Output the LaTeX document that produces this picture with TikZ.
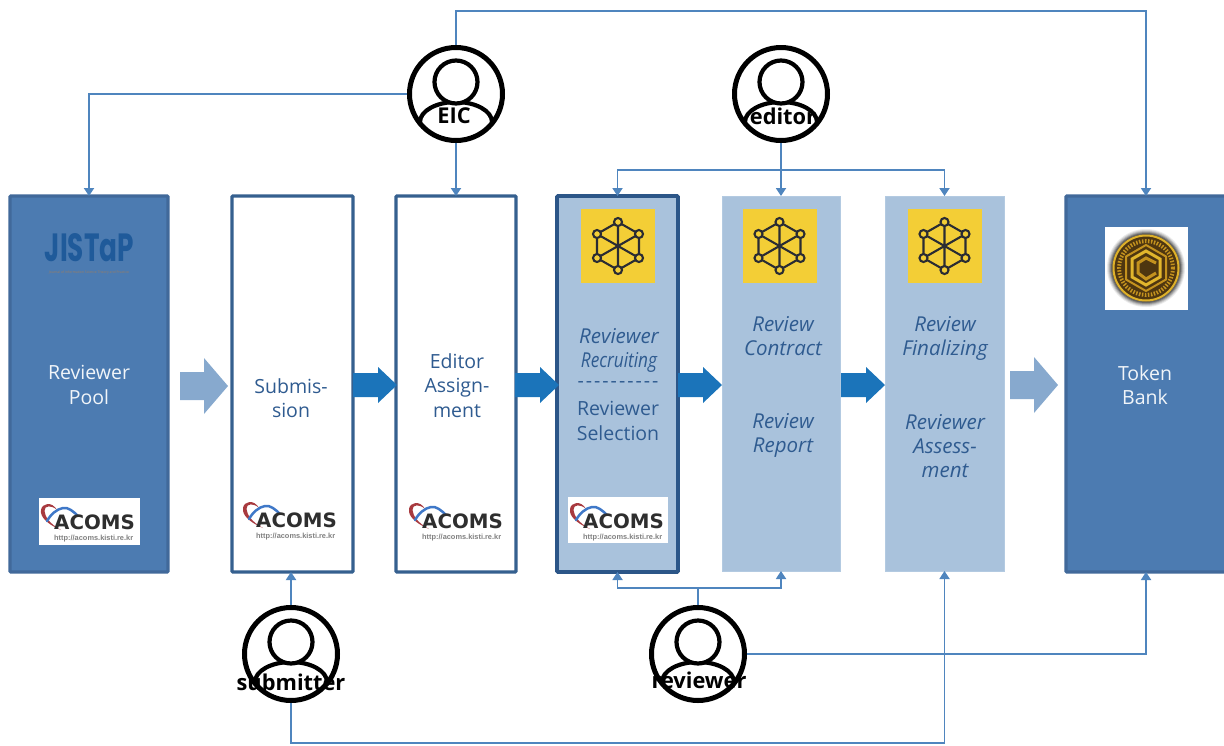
\documentclass[tikz,border=0pt]{standalone}
\usepackage{fontspec}
\setmainfont{Open Sans}
\usetikzlibrary{arrows.meta,calc}
\definecolor{conn}{HTML}{4F85BE}
\definecolor{darkfill}{HTML}{4C7BB1}
\definecolor{darkedge}{HTML}{41699A}
\definecolor{navy}{HTML}{35608F}
\definecolor{navyb}{HTML}{2C5688}
\definecolor{lightfill}{HTML}{A9C2DC}
\definecolor{lightedge}{HTML}{B3CAE1}
\definecolor{bigblue}{HTML}{1B74BA}
\definecolor{paleblue}{HTML}{87A9CE}
\definecolor{txt}{HTML}{2F5B90}
\definecolor{yel}{HTML}{F3CE36}
\definecolor{hexc}{HTML}{2A2C33}
\definecolor{jis}{HTML}{1F5A9A}
\definecolor{gold}{HTML}{C4921E}
\definecolor{goldb}{HTML}{E2B62C}
\definecolor{goldd}{HTML}{4E3610}
\definecolor{logored}{HTML}{A83A3F}
\definecolor{logoblue}{HTML}{3F78C8}
\tikzset{
  x=1pt,y=-1pt,
  boxdark/.style={draw=darkedge,line width=3.3pt,fill=darkfill,rounded corners=1pt},
  boxwhite/.style={draw=navy,line width=3.3pt,fill=white,rounded corners=1pt},
  boxstrong/.style={draw=navyb,line width=3.8pt,fill=lightfill,rounded corners=1pt},
  boxpale/.style={draw=lightedge,line width=1pt,fill=lightfill},
  stage/.style={rectangle,inner sep=0pt,outer sep=0pt,anchor=north west},
  lbl/.style={font=\fontsize{19.5}{24.4}\selectfont,align=center,text=txt,inner sep=0pt},
  lblit/.style={lbl,font=\fontsize{20.5}{24.4}\selectfont\itshape},
  person/.style={circle,draw=black,fill=white,line width=5pt,minimum size=93pt,inner sep=0pt},
  plabel/.style={font=\fontsize{21.8}{24}\selectfont\bfseries,text=black,inner sep=0pt},
  wire/.style={draw=conn,line width=1.8pt},
  wirea/.style={wire,-{Triangle[width=10pt,length=8pt]}},
}
\newcommand{\stagebox}[6]{% name, style, x1, y1, x2, y2
  \node[stage,#2,minimum width=#5-#3,minimum height=#6-#4] (#1) at (#3,#4) {};}
\newcommand{\bigarrow}[3]{% color, x, y: tail left, middle
  \fill[#1] (#2,#3-14) -- ++(24,0) -- ++(0,-14) -- ++(24,28) -- ++(-24,28) -- ++(0,-14) -- ++(-24,0) -- cycle;}
\newcommand{\smallarrow}[2]{% x, y
  \fill[bigblue] (#1,#2-12) -- ++(25,0) -- ++(0,-6) -- ++(19,18) -- ++(-19,18) -- ++(0,-6) -- ++(-25,0) -- cycle;}
\newcommand{\hexicon}[2]{% name, x center, y center
  \begin{scope}[shift={(#2)}]
    \fill[yel] (-37,-37) rectangle (37,37);
    \draw[hexc,line width=2.1pt,line join=round] (0,-24) -- (21,-12) -- (21,12) -- (0,24) -- (-21,12) -- (-21,-12) -- cycle;
    \draw[hexc,line width=2.1pt] (0,-24) -- (0,24) (21,-12) -- (-21,12) (21,12) -- (-21,-12);
    \foreach \a/\b in {0/-24,21/-12,21/12,0/24,-21/12,-21/-12}
      \draw[hexc,line width=2.1pt,fill=yel] (\a,\b) circle (4);
  \end{scope}}
\newcommand{\acomslogo}[3]{% name, x of ACOMS left, y of ACOMS top
  \begin{scope}[shift={(#2,#3)}]
    \fill[logored] (6,15) .. controls (-8,9) and (-15,2) .. (-14,-5) .. controls (-13,-12) and (-3,-14) .. (2,-5) .. controls (-3,-10) and (-11,-10) .. (-10.5,-4) .. controls (-10,2) and (-5,9) .. (6,15) -- cycle;
    \draw[logoblue,line width=2.5pt,line cap=round] (-8,6) .. controls (-4,-1) and (2,-6) .. (8,-7) .. controls (13,-8) and (18,-4) .. (23,1);
    \node[inner sep=0pt,anchor=west,text=black!82] (#1a) at (-1,7.5) {\fontsize{19.8}{20}\selectfont\fontspec{DejaVu Sans}\bfseries ACOMS};
    \node[inner sep=0pt,anchor=west,text=black!50] (#1u) at (-1,23.5) {\fontsize{7.4}{8}\selectfont\bfseries\fontspec{Liberation Sans}http://acoms.kisti.re.kr};
  \end{scope}}
\begin{document}
\begin{tikzpicture}
\useasboundingbox (0,0) rectangle (1224,745);
% stages
\stagebox{pool}{boxdark}{10}{196}{168}{572}
\stagebox{subm}{boxwhite}{232}{196}{353}{572}
\stagebox{edas}{boxwhite}{396}{196}{516}{572}
\stagebox{recr}{boxstrong}{557}{196}{678}{572}
\stagebox{cont}{boxpale}{722}{196}{840}{571}
\stagebox{fina}{boxpale}{885}{196}{1004}{571}
\stagebox{bank}{boxdark}{1066}{196}{1226}{572}
% people
\node[person] (eic) at (456,94) {};
\node[person] (edi) at (781,94) {};
\node[person] (sub) at (291,654) {};
\node[person] (rev) at (698,654) {};
\foreach \p in {eic,edi,sub,rev}{
  \begin{scope}
    \clip (\p) circle (46);
    \draw[black,line width=4.2pt] ($(\p)+(-36,28)$) arc[start angle=180,end angle=0,x radius=36,y radius=-20];
  \end{scope}
  \draw[black,line width=4.2pt,fill=white] ($(\p)+(0,-12)$) circle (21.5);
}
% bends
\coordinate (tr) at (1146,11);
\coordinate (tl) at (89,94);
\coordinate (eb) at (781,170);
\coordinate (rb) at (698,588);
\coordinate (rr) at (1146,654);
\coordinate (sb) at (944.5,743);
% connectors
\draw[wirea] (eic.north) |- (tr) -- (bank.north);
\draw[wirea] (eic.west) -- (tl) -- (pool.north);
\draw[wirea] (eic.south) -- (edas.north -| eic.south);
\draw[wirea] (edi.south) -- (cont.north -| edi.south);
\draw[wirea] (eb) -| (recr.north);
\draw[wirea] (eb) -| (fina.north);
\draw[wire] (rev.north) -- (rb);
\draw[wirea] (rb) -| (recr.south);
\draw[wirea] (rb) -| (cont.south);
\draw[wirea] (rev.east) -- (rr) -- (bank.south);
\draw[wirea] (sub.north) -- (subm.south -| sub.north);
\draw[wirea] (sub.south) |- (sb) -- (fina.south);
% flow arrows
\bigarrow{paleblue}{180}{386}
\bigarrow{paleblue}{1010}{385}
\smallarrow{353}{385}
\smallarrow{515}{385}
\smallarrow{678}{385}
\smallarrow{841}{385}
% JISTaP
\node[inner sep=0pt,text=jis] (jis) at (89.5,247) {\raisebox{0pt}[29pt][0pt]{\resizebox{89pt}{28pt}{\fontspec{Poppins}\bfseries JISTaP}}};
\node[inner sep=0pt,text=brown!70!darkfill] (jisb) at (89,273) {\fontsize{3.4}{3.6}\selectfont Journal of Information Science Theory and Practice};
% logos
\fill[white] (39,498) rectangle (140,545);
\fill[white] (568,497) rectangle (668,543);
\acomslogo{la}{55}{515}
\acomslogo{lb}{257}{513}
\acomslogo{lc}{423}{514}
\acomslogo{ld}{584}{514}
% blockchain icons
\hexicon{ha}{618,246}
\hexicon{hb}{779.5,246}
\hexicon{hc}{944.5,246}
% coin
\fill[white] (1105,227) rectangle (1188,310);
\foreach \r/\g in {39/8,38/18,37/30,36/45,35/60}
  \fill[black!\g] (1146,268) circle (\r);
\fill[goldd] (1146,268) circle (33.5);
\draw[goldb!85!gold,line width=2pt] (1146,268) circle (32.5);
\draw[gold,line width=4pt,dash pattern=on 1.5pt off 1.5pt] (1146,268) circle (27);
\draw[gold,line width=2pt] (1146,245) -- (1166,256.5) -- (1166,279.5) -- (1146,291) -- (1126,279.5) -- (1126,256.5) -- cycle;
\draw[goldb,line width=3pt] (1146,251) -- (1160,259) -- (1160,277) -- (1146,285) -- (1132,277) -- (1132,259) -- cycle;
\draw[gold,line width=3pt] (1156,263) -- (1146,258) -- (1138,263) -- (1138,273) -- (1146,279) -- (1156,273);
% labels
\node[lbl,text=white!92!darkfill] (tpool) at (89,385) {Reviewer\\Pool};
\node[lbl] (tsub) at (291,398) {Submis-\\sion};
\node[lbl] (tedi) at (457,385.5) {Editor\\Assign-\\ment};
\node[lblit] (trr) at (619,350.5) {Reviewer\\\scalebox{0.84}[1]{Recruiting}};
\node[lbl] (tdash) at (618,385) {-\hspace{2pt}-\hspace{2pt}-\hspace{2pt}-\hspace{2pt}-\hspace{2pt}-\hspace{2pt}-\hspace{2pt}-\hspace{2pt}-\hspace{2pt}-};
\node[lbl] (trs) at (618,421) {Reviewer\\Selection};
\node[lblit] (trc) at (783,336) {Review\\Contract};
\node[lblit] (trp) at (783,435.5) {Review\\Report};
\node[lblit] (trf) at (945,338.5) {Review\\Finalizing};
\node[lblit] (tra) at (945,446) {Reviewer\\Assess-\\ment};
\node[lbl,text=white!92!darkfill] (tbank) at (1145,385) {Token\\Bank};
% person labels
\node[plabel] (leic) at (454,116) {EIC};
\node[plabel] (ledi) at (783,116) {editor};
\node[plabel] (lsub) at (291,682) {submitter};
\node[plabel] (lrev) at (699,680) {reviewer};
\end{tikzpicture}
\end{document}
